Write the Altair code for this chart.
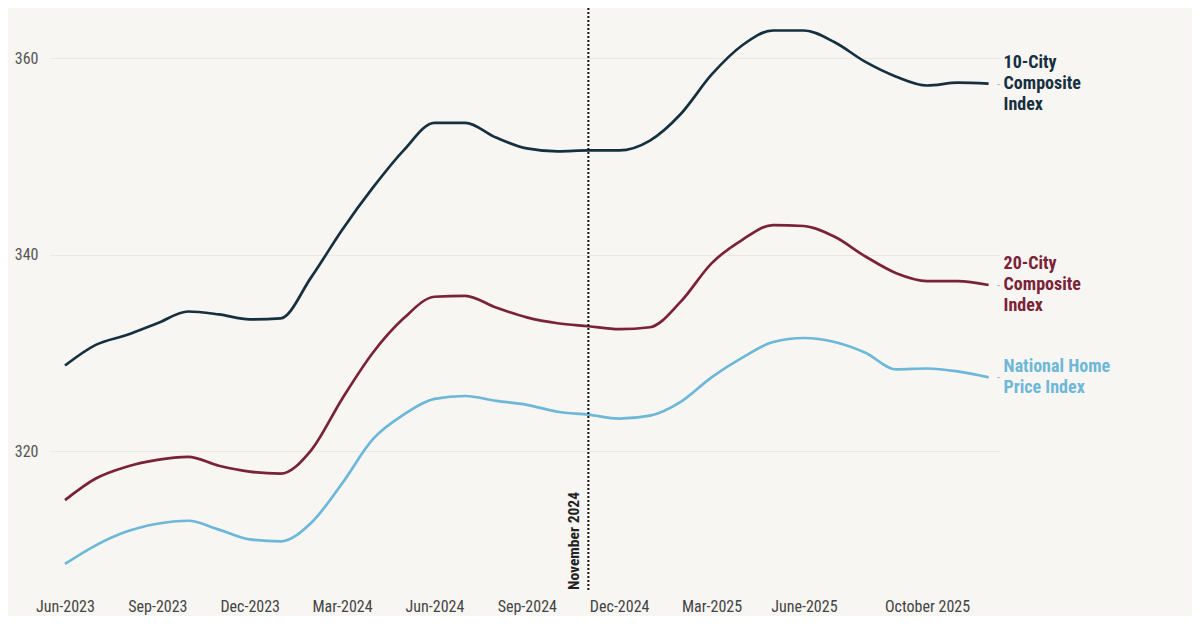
import altair as alt
import pandas as pd

# S&P CoreLogic Case-Shiller indices, monthly Jun-2023 .. Dec-2025
months = [d.strftime("%b-%Y") for d in pd.date_range("2023-06-01", periods=31, freq="MS")]

ten_city = [328.7, 330.8, 331.8, 333.0, 334.2, 333.9, 333.4, 333.5, 337.7, 342.5,
            346.8, 350.6, 353.4, 353.4, 351.9, 350.8, 350.5, 350.6, 350.6, 351.6,
            354.3, 358.3, 361.3, 362.8, 362.8, 361.6, 359.6, 358.1, 357.2, 357.5, 357.4]
twenty_city = [315.0, 317.2, 318.4, 319.1, 319.4, 318.5, 317.9, 317.7, 320.1, 325.3,
               330.0, 333.5, 335.7, 335.8, 334.6, 333.6, 333.0, 332.7, 332.4, 332.6,
               335.2, 339.1, 341.5, 343.0, 342.9, 341.8, 339.8, 338.1, 337.3, 337.3, 336.9]
national = [308.5, 310.4, 311.8, 312.6, 312.9, 312.0, 311.0, 310.8, 312.7, 316.7,
            321.2, 323.7, 325.3, 325.6, 325.1, 324.7, 324.0, 323.7, 323.3, 323.6,
            325.0, 327.5, 329.5, 331.1, 331.5, 331.1, 330.0, 328.3, 328.4, 328.1, 327.5]

series_names = ["10-City Composite Index", "20-City Composite Index", "National Home Price Index"]
series_labels = ["10-City\nComposite\nIndex", "20-City\nComposite\nIndex", "National Home\nPrice Index"]
series_colors = ["#16303f", "#7a2236", "#6db7d8"]

tick_idx = [0, 3, 6, 9, 12, 15, 18, 21, 24, 28]
tick_text = ["Jun-2023", "Sep-2023", "Dec-2023", "Mar-2024", "Jun-2024", "Sep-2024",
             "Dec-2024", "Mar-2025", "June-2025", "October 2025"]

event_idx = 17
event_text = "November 2024"

rows = []
for name, vals in zip(series_names, [ten_city, twenty_city, national]):
    for i, v in enumerate(vals):
        rows.append({"series": name, "idx": i, "month": months[i], "value": v})
df = pd.DataFrame(rows)

last = pd.DataFrame({
    "series": series_names,
    "label": series_labels,
    "idx": [len(ten_city) - 1] * 3,
    "value": [ten_city[-1], twenty_city[-1], national[-1]],
})

FONT = "Roboto Condensed, Liberation Sans Narrow, Roboto, sans-serif"
W, H = 950, 584
LH = 21

color = alt.Color("series:N", scale=alt.Scale(domain=series_names, range=series_colors), legend=None)
x = alt.X("idx:Q", title=None,
          scale=alt.Scale(domain=[-0.487, 30.37], nice=False, zero=False),
          axis=alt.Axis(values=tick_idx, labelExpr=f"{tick_text}[indexof({tick_idx}, datum.value)]",
                        grid=False, domain=False, ticks=False, labelPadding=6,
                        labelFontSize=16, labelColor="#444", labelFont=FONT))
y = alt.Y("value:Q", title=None,
          scale=alt.Scale(domain=[305.65, 365.09], nice=False, zero=False),
          axis=alt.Axis(values=[320, 340, 360], domain=False, ticks=False, labelPadding=12,
                        labelFontSize=16, labelColor="#555", labelFont=FONT,
                        gridColor="#ece8e3", gridWidth=1))

lines = alt.Chart(df).mark_line(strokeWidth=2.7, interpolate="monotone").encode(
    x=x, y=y, color=color, detail="series:N"
)

rule = alt.Chart(pd.DataFrame({"idx": [event_idx]})).mark_rule(
    color="#111", strokeWidth=2, strokeDash=[2, 2]
).encode(x="idx:Q")

event_label = alt.Chart(pd.DataFrame({"idx": [event_idx], "text": [event_text]})).mark_text(
    angle=270, align="left", baseline="bottom", dy=-6, font=FONT,
    fontSize=15.5, fontWeight="bold", color="#222"
).encode(x="idx:Q", y=alt.value(H - 2), text="text:N")

dash = alt.Chart(last).mark_text(text="-", align="left", baseline="middle", dx=8,
                                 fontSize=12, color="#bbb").encode(x="idx:Q", y="value:Q")

# one text mark per series so each multi-line label is centred on its line end
end_labels = []
for name, label in zip(series_names, series_labels):
    n = label.count("\n") + 1
    end_labels.append(
        alt.Chart(last).transform_filter(alt.datum.series == name).mark_text(
            align="left", baseline="middle", dx=15, dy=-(n - 1) / 2 * LH,
            lineBreak="\n", lineHeight=LH, font=FONT, fontSize=18, fontWeight="bold"
        ).encode(x="idx:Q", y="value:Q", text="label:N", color=color)
    )

chart = alt.layer(lines, rule, event_label, dash, *end_labels).properties(
    width=W, height=H,
    padding={"left": 42, "top": 0, "right": 192, "bottom": 24},
    autosize="none",
).configure(background="#f8f6f3").configure_view(strokeOpacity=0)

chart.save("out.html", embed_options={"renderer": "svg", "actions": False})
